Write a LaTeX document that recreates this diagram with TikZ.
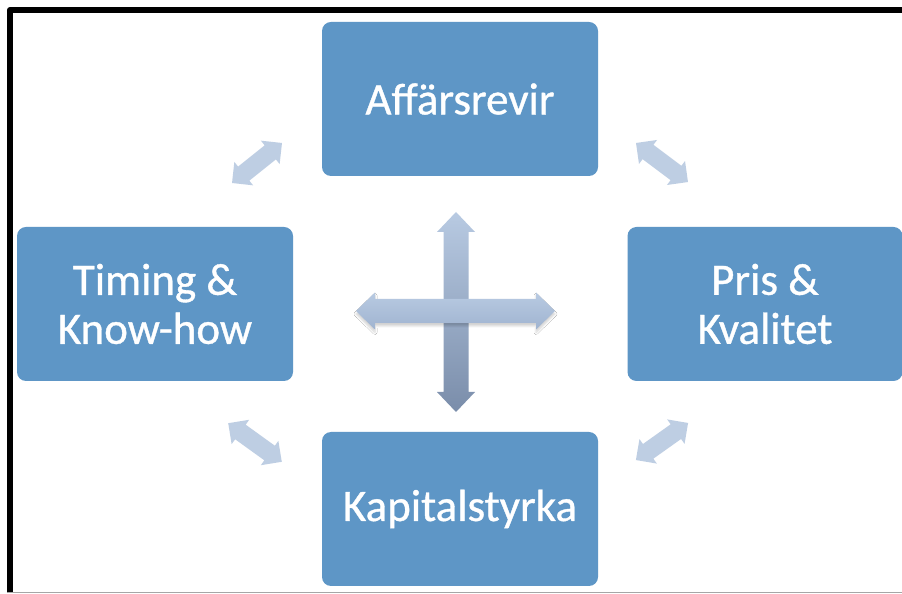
\documentclass[tikz,border=0pt]{standalone}
\usepackage{fontspec}
\setmainfont{Carlito}
\newfontfamily\boxfont{Carlito}[BoldFont=Carlito, BoldFeatures={FakeBold=0.8}]
\usetikzlibrary{shadows.blur}

\definecolor{boxblue}{RGB}{94,150,198}
\definecolor{linkblue}{RGB}{190,206,227}
\definecolor{crosslight}{RGB}{184,202,226}
\definecolor{crossmid}{RGB}{160,180,208}
\definecolor{crossdark}{RGB}{122,141,170}

% Double-headed block arrow, drawn along the local x axis.
% #1 style, #2 x, #3 y, #4 angle, #5 half length, #6 shaft half width,
% #7 head half width, #8 head length
\newcommand\blkarrow[8]{%
  \begin{scope}[shift={(#2,#3)}, rotate=#4]
    \path[#1] (-#5,0) -- (-#5+#8,#7) -- (-#5+#8,#6) -- (#5-#8,#6)
      -- (#5-#8,#7) -- (#5,0) -- (#5-#8,-#7) -- (#5-#8,-#6)
      -- (-#5+#8,-#6) -- (-#5+#8,-#7) -- cycle;
  \end{scope}}

% Same shape, upright, so a vertical gradient stays vertical.
\newcommand\blkarrowup[7]{%
  \begin{scope}[shift={(#1,#2)}]
    \path[#3] (0,-#4) -- (#6,-#4+#7) -- (#5,-#4+#7) -- (#5,#4-#7)
      -- (#6,#4-#7) -- (0,#4) -- (-#6,#4-#7) -- (-#5,#4-#7)
      -- (-#5,-#4+#7) -- (-#6,-#4+#7) -- cycle;
  \end{scope}}

\tikzset{
  box/.style={rectangle, rounded corners=9pt, fill=boxblue, text=white,
    minimum width=276pt, minimum height=154pt, inner sep=0pt,
    align=center, font=\boxfont\bfseries\fontsize{45}{49}\selectfont},
  link/.style={fill=linkblue},
}

\begin{document}
\begin{tikzpicture}[x=1pt,y=1pt]
  \useasboundingbox (0,0) rectangle (902,594);
  \fill[white] (0,0) rectangle (902,594);

  % frame
  \draw[gray!70, line width=1.5pt] (7,1.5) -- (902,1.5);
  \draw[black, line width=6pt, line join=round] (10,1.5) -- (10,584) -- (903,584);

  % four boxes
  \node[box] (aff)  at (460,495) {Affärsrevir};
  \node[box] (tim)  at (155,290) {Timing \&\\Know-how};
  \node[box, minimum width=275pt] (pris) at (765,290) {Pris \&\\Kvalitet};
  \node[box] (kap)  at (460,85)  {Kapitalstyrka};

  % links between neighbouring boxes
  \coordinate (tl) at (257,431);
  \coordinate (tr) at (662,431.5);
  \coordinate (bl) at (255,151.5);
  \coordinate (br) at (662,152.5);
  \blkarrow{link}{257}{431}{38.7}{32}{9}{15}{15}
  \blkarrow{link}{662}{431.5}{-36.9}{32.5}{9}{15}{15}
  \blkarrow{link}{255}{151.5}{-35.8}{33}{9}{15}{15}
  \blkarrow{link}{662}{152.5}{35.4}{32}{9}{15}{15}

  % central cross
  \blkarrowup{456}{282}{top color=crosslight, bottom color=crossdark}{100}{12.5}{19}{20}
  \blkarrow{top color=crosslight, bottom color=crossmid,
    blur shadow={shadow xshift=0pt, shadow yshift=-3pt, shadow opacity=18,
      shadow blur radius=2pt}}{455.5}{283}{0}{99.5}{12}{18.5}{19}
\end{tikzpicture}
\end{document}
